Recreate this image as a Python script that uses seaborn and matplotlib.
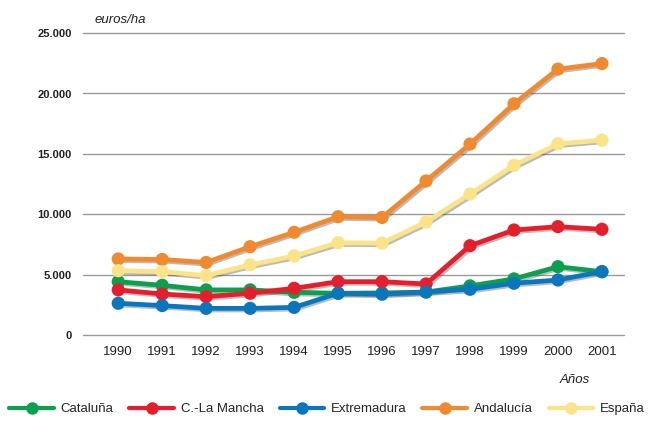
import numpy as np
import pandas as pd
import matplotlib
matplotlib.use("Agg")
import matplotlib.pyplot as plt
import matplotlib.patheffects as pe
from matplotlib.lines import Line2D
import seaborn as sns

# datos (euros/ha)
years = list(range(1990, 2002))
cataluna = [4410, 4110, 3730, 3730, 3530, 3450, 3480, 3550, 4060, 4640, 5650, 5240]
la_mancha = [3730, 3390, 3170, 3450, 3860, 4410, 4410, 4220, 7390, 8690, 8970, 8750]
extremadura = [2620, 2430, 2200, 2200, 2280, 3450, 3370, 3560, 3780, 4280, 4550, 5240]
andalucia = [6290, 6250, 6000, 7310, 8500, 9790, 9730, 12750, 15810, 19150, 22020, 22480]
espana = [5320, 5240, 4910, 5800, 6540, 7640, 7600, 9350, 11670, 14050, 15830, 16140]

series = ["Cataluña", "C.-La Mancha", "Extremadura", "Andalucía", "España"]
colores = ["#0BA04B", "#E61E2B", "#0A76BE", "#F18A2E", "#FBE487"]
y_ticks = [0, 5000, 10000, 15000, 20000, 25000]
y_labels = ["0", "5.000", "10.000", "15.000", "20.000", "25.000"]

df = pd.DataFrame({
    "year": years * 5,
    "value": cataluna + la_mancha + extremadura + andalucia + espana,
    "region": sum([[s] * len(years) for s in series], []),
})

sns.set_theme(style="white")
plt.rcParams['font.family'] = ['Liberation Sans', 'DejaVu Sans']

fig = plt.figure(figsize=(6.54, 4.25), dpi=100)
ax = fig.add_axes([0.127, 0.212, 0.827, 0.71])

palette = dict(zip(series, colores))
sns.lineplot(data=df, x="year", y="value", hue="region", hue_order=series,
             palette=palette, marker="o", markersize=9.5, markeredgewidth=0,
             linewidth=3.4, ax=ax, legend=False)

# sombra solo en las series
shadow = [pe.SimpleLineShadow(offset=(1.2, -1.2), shadow_color="#555555", alpha=0.4), pe.Normal()]
for ln in ax.lines:
    ln.set_path_effects(shadow)

# rejilla
for t in y_ticks:
    ax.axhline(t, color="#9a9a9a", lw=1.0, zorder=0, clip_on=False)

ax.set_xlim(1989.2, 2001.5)
ax.set_ylim(0, 25000)
ax.set_xticks(years)
ax.set_xticklabels([str(y) for y in years], fontsize=9.5, color="#222222")
ax.set_yticks(y_ticks)
ax.set_yticklabels(y_labels, fontsize=8, fontweight="bold", color="#222222")
ax.tick_params(axis="y", length=0, pad=8)
ax.tick_params(axis="x", length=0, pad=8)
ax.set_xlabel("")
ax.set_ylabel("")
for s in ax.spines.values():
    s.set_visible(False)

fig.text(0.145, 0.945, "euros/ha", fontsize=9.5, style="italic", color="#222222")
fig.text(0.855, 0.098, "Años", fontsize=9.5, style="italic", color="#222222")

handles = [Line2D([0], [0], color=c, lw=3, marker="o", markersize=9, markeredgewidth=0)
           for c in colores]
fig.legend(handles, series, loc="lower center", bbox_to_anchor=(0.5, -0.005), ncol=5,
           frameon=False, fontsize=9.5, handlelength=3.4, handletextpad=0.5,
           columnspacing=1.2)

fig.savefig("out.png", dpi=100)
